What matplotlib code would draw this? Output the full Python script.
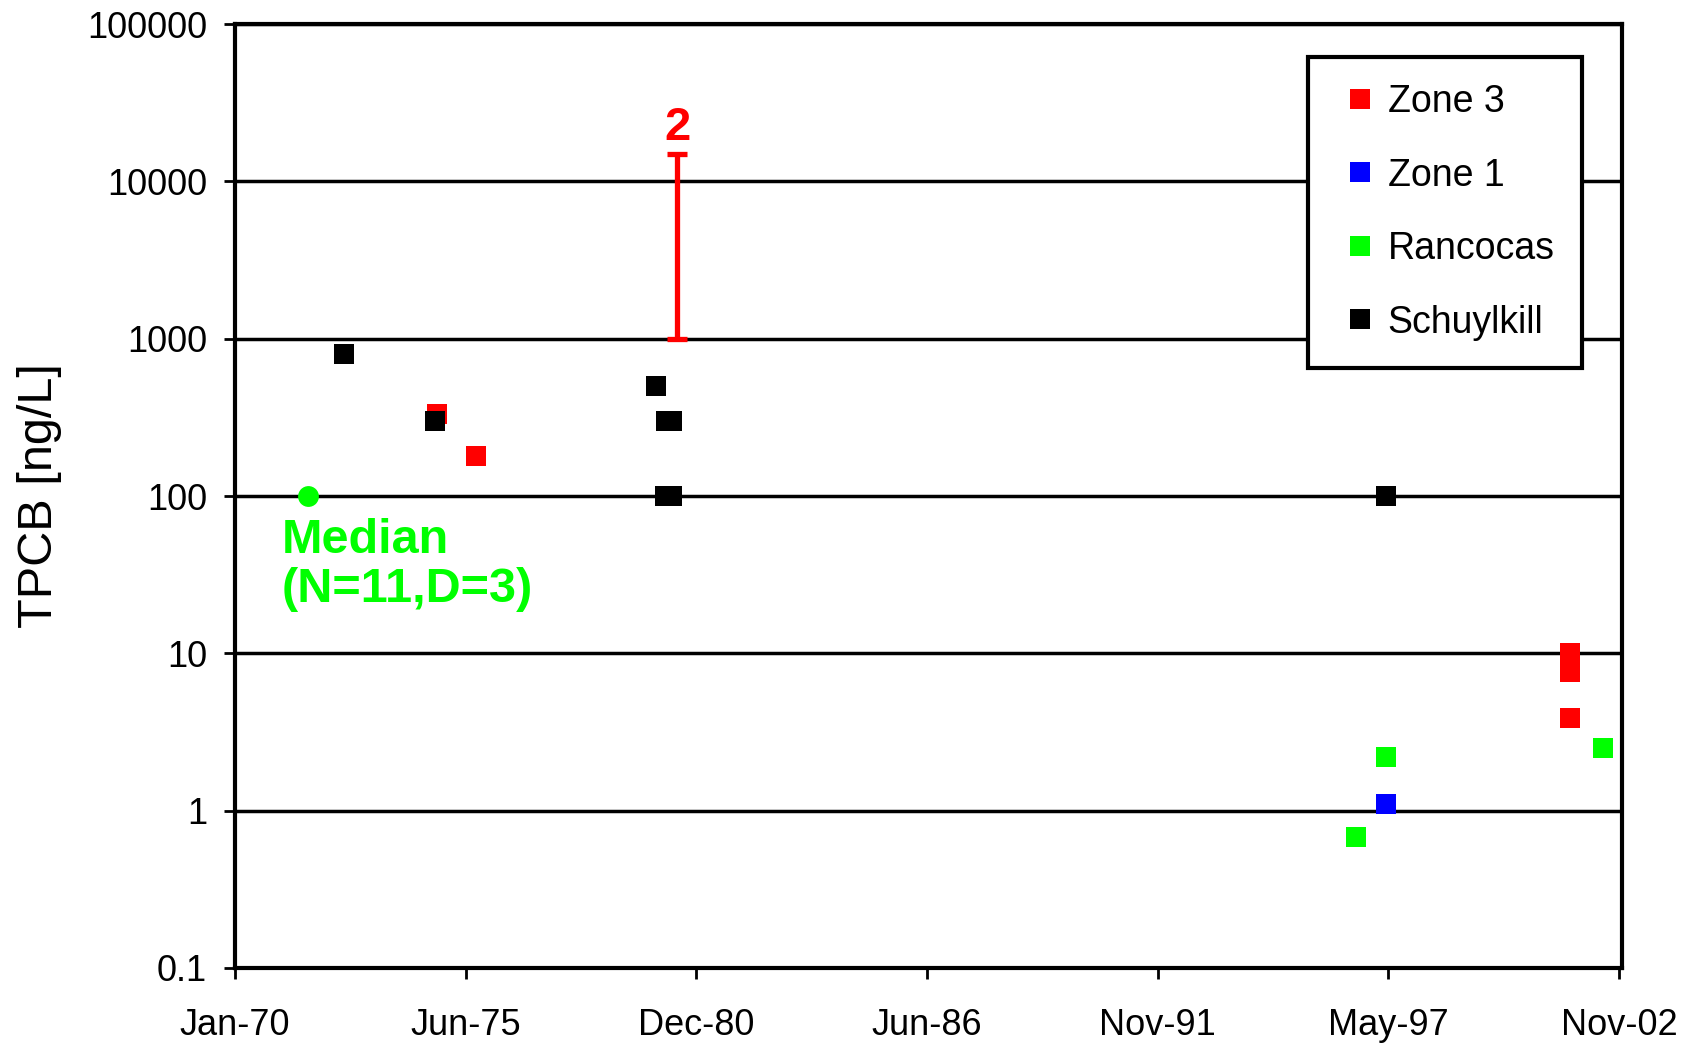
import numpy as np
import matplotlib
matplotlib.use("Agg")
from matplotlib import pyplot as plt
import matplotlib.dates as mdates
import matplotlib.ticker as ticker

plt.rcParams['font.family'] = ['Liberation Sans', 'DejaVu Sans']

# data
zone3_dates = ['1974-10-19', '1975-09-25', '2001-09-12', '2001-09-12', '2001-09-12', '2001-09-12']
zone3_tpcb = [330, 180, 10, 8.7, 7.6, 3.9]

zone1_dates = ['1997-04-24']
zone1_tpcb = [1.1]

rancocas_dates = ['1996-08-13', '1997-04-24', '2002-06-22']
rancocas_tpcb = [0.68, 2.2, 2.5]

schuylkill_dates = ['1972-08-01', '1974-10-04', '1979-12-29', '1980-03-30', '1980-05-16',
                    '1980-03-19', '1980-05-16', '1997-04-24']
schuylkill_tpcb = [800, 300, 500, 300, 300, 100, 100, 100]

median_date = ['1971-09-26']
median_tpcb = [100]

range_date = '1980-07-03'
range_low = 1000
range_high = 15000
range_count = '2'

ytick_values = [0.1, 1, 10, 100, 1000, 10000, 100000]
ytick_labels = ['0.1', '1', '10', '100', '1000', '10000', '100000']
xtick_days = [0, 2000, 4000, 6000, 8000, 10000, 12000]


def to_num(dates):
    return mdates.date2num(np.array(dates, dtype='datetime64[D]'))


fig = plt.figure(figsize=(16.92, 10.45), dpi=100)
ax = fig.add_axes([0.1389, 0.0737, 0.8197, 0.9033])

ax.set_yscale('log')
ax.set_ylim(0.1, 100000)
ax.set_xlim(0, 12025)

for yv in ytick_values:
    ax.axhline(yv, color='black', lw=2.5, zorder=1)

msize = 15
ax.plot(to_num(zone3_dates), zone3_tpcb, 's', color='#ff0000', ms=msize, mew=0, label='Zone 3', zorder=3)
ax.plot(to_num(zone1_dates), zone1_tpcb, 's', color='#0000ff', ms=msize, mew=0, label='Zone 1', zorder=3)
ax.plot(to_num(rancocas_dates), rancocas_tpcb, 's', color='#00ff00', ms=msize, mew=0, label='Rancocas', zorder=3)
ax.plot(to_num(schuylkill_dates), schuylkill_tpcb, 's', color='black', ms=msize, mew=0, label='Schuylkill', zorder=4)

ax.plot(to_num(median_date), median_tpcb, 'o', color='#00ff00', ms=15, mew=0, zorder=3)
ax.text(to_num(['1971-02-11'])[0], 72, 'Median\n(N=11,D=3)', color='#00ff00', fontsize=35,
        fontweight='bold', va='top', ha='left', linespacing=1.1)

rx = to_num([range_date])[0]
ax.errorbar([rx], [range_low], yerr=[[0], [range_high - range_low]], fmt='none',
            ecolor='#ff0000', elinewidth=3.8, capsize=7.5, capthick=3.8, zorder=3)
ax.text(rx, 15800, range_count, color='#ff0000', fontsize=34, fontweight='bold',
        ha='center', va='bottom')

ax.yaxis.set_major_locator(ticker.FixedLocator(ytick_values))
ax.yaxis.set_major_formatter(ticker.FixedFormatter(ytick_labels))
ax.yaxis.set_minor_locator(ticker.NullLocator())
ax.xaxis.set_major_locator(ticker.FixedLocator(xtick_days))
ax.xaxis.set_major_formatter(mdates.DateFormatter('%b-%y'))

ax.tick_params(axis='both', direction='out', length=8, width=2, labelsize=26, color='black')
ax.tick_params(axis='y', pad=12)
ax.tick_params(axis='x', pad=21)

for s in ax.spines.values():
    s.set_linewidth(3)
    s.set_color('black')

ax.set_ylabel('TPCB [ng/L]', fontsize=35)
ax.yaxis.set_label_coords(-0.125, 0.5)

leg = ax.legend(loc='upper right', bbox_to_anchor=(0.971, 0.965), fontsize=27, frameon=True,
                fancybox=False, edgecolor='black', framealpha=1, markerscale=1.0,
                handlelength=1.3, handletextpad=0.1, labelspacing=1.0, borderpad=0.72,
                borderaxespad=0)
leg.get_frame().set_linewidth(3)

fig.savefig('out.png', dpi=100)
